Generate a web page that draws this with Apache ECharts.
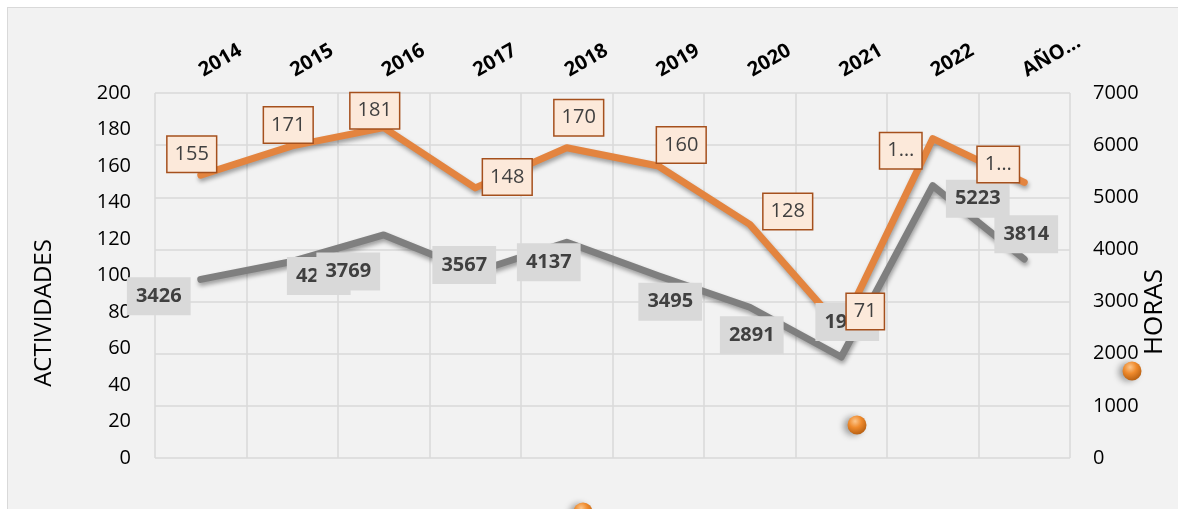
<!DOCTYPE html>
<html>
<head>
<meta charset="utf-8">
<title>Actividades y horas</title>
<script src="https://cdn.jsdelivr.net/npm/echarts@6/dist/echarts.min.js"></script>
<style>
  html, body { margin: 0; padding: 0; background: #fff; overflow: hidden; }
  #frame { position: absolute; left: 7px; top: 7px; width: 1200px; height: 600px;
           background: #f2f2f2; border: 1px solid #d9d9d9; }
  #main { position: absolute; left: 0; top: 0; width: 1178px; height: 509px; }
</style>
</head>
<body>
<div id="frame"></div>
<div id="main"></div>
<script>
  // datos
  const years = ['2014', '2015', '2016', '2017', '2018', '2019', '2020', '2021', '2022', 'AÑO…']
  const actividades = [155, 171, 181, 148, 170, 160, 128, 71, 175, 151]
  const actividadesText = ['155', '171', '181', '148', '170', '160', '128', '71', '1…', '1…']
  const horas = [3426, 3769, 4277, 3567, 4137, 3495, 2891, 1937, 5223, 3814]

  // desplazamiento de las etiquetas respecto al punto (px)
  const actOffsets = [[-9, -21], [-4, -21], [-9, -17], [32, -11], [12, -30], [23, -21], [38, -13], [24, -17], [-32, 12], [-26, -18]]
  const hrsOffsets = [[-42, 17], [56, 10], [-65, 41], [-11, -7], [-18, 20], [12, 26], [2, 28], [6, -35], [45, 13], [2, -25]]

  const FONT = 'Open Sans'
  const ORANGE = '#e3843f'
  const GREY = '#7f7f7f'

  const chart = echarts.init(document.getElementById('main'))

  const greyLabel = {
    show: true,
    position: 'inside',
    fontFamily: FONT,
    fontSize: 20,
    fontWeight: 'bold',
    color: '#404040',
    backgroundColor: '#d9d9d9',
    padding: [8, 9],
    lineHeight: 22
  }

  const orangeLabel = {
    show: true,
    position: 'inside',
    fontFamily: FONT,
    fontSize: 20,
    color: '#404040',
    backgroundColor: '#fce9da',
    borderColor: '#a5501d',
    borderWidth: 1.5,
    padding: [7, 7, 6, 7],
    lineHeight: 22
  }

  const lineShadow = {
    shadowColor: 'rgba(0,0,0,0.35)',
    shadowBlur: 4,
    shadowOffsetX: 1,
    shadowOffsetY: 3
  }

  function sphere(cx, cy) {
    return {
      type: 'circle',
      shape: { cx: cx, cy: cy, r: 9.5 },
      style: {
        fill: new echarts.graphic.RadialGradient(0.4, 0.3, 0.75, [
          { offset: 0, color: '#fcc68c' },
          { offset: 0.45, color: '#ef8a2c' },
          { offset: 1, color: '#b25c10' }
        ]),
        shadowColor: 'rgba(0,0,0,0.35)',
        shadowBlur: 6,
        shadowOffsetX: -4,
        shadowOffsetY: 1
      },
      z: 10
    }
  }

  chart.setOption({
    backgroundColor: 'transparent',
    animation: false,
    grid: { left: 155, right: 108, top: 93, bottom: 51 },
    xAxis: {
      type: 'category',
      position: 'top',
      data: years,
      boundaryGap: true,
      axisLine: { show: false },
      axisTick: { show: false },
      axisLabel: {
        interval: 0,
        rotate: 30,
        margin: 21,
        fontFamily: FONT,
        fontSize: 20,
        fontWeight: 'bold',
        color: '#000'
      },
      splitLine: { show: true, interval: 0, lineStyle: { color: '#d9d9d9', width: 1.5 } }
    },
    yAxis: [
      {
        type: 'value',
        min: 0,
        max: 200,
        interval: 20,
        axisLine: { show: false },
        axisTick: { show: false },
        splitLine: { show: false },
        axisLabel: { margin: 24, fontFamily: FONT, fontSize: 20, color: '#000' }
      },
      {
        type: 'value',
        min: 0,
        max: 7000,
        interval: 1000,
        position: 'right',
        axisLine: { show: false },
        axisTick: { show: false },
        splitLine: { show: true, lineStyle: { color: '#d9d9d9', width: 1.5 } },
        axisLabel: {
          margin: 23, fontFamily: FONT, fontSize: 20, color: '#000',
          formatter: v => String(v)
        }
      }
    ],
    series: [
      {
        name: 'ACTIVIDADES',
        type: 'line',
        yAxisIndex: 0,
        z: 1,
        symbol: 'circle',
        symbolSize: 2,
        itemStyle: { color: 'transparent' },
        lineStyle: Object.assign({ color: ORANGE, width: 7, cap: 'round', join: 'round' }, lineShadow),
        label: { show: false },
        data: actividades
      },
      {
        name: 'HORAS',
        type: 'line',
        yAxisIndex: 1,
        z: 2,
        symbol: 'circle',
        symbolSize: 2,
        itemStyle: { color: 'transparent' },
        lineStyle: Object.assign({ color: GREY, width: 7, cap: 'round', join: 'round' }, lineShadow),
        label: greyLabel,
        data: horas.map((v, i) => ({ value: v, label: { show: i !== 1, offset: hrsOffsets[i] } }))
      },
      {
        // etiqueta de 2015 queda encima de la de 2016
        name: 'HORAS-etiqueta',
        type: 'line',
        yAxisIndex: 1,
        z: 2,
        silent: true,
        symbol: 'circle',
        symbolSize: 2,
        itemStyle: { color: 'transparent' },
        lineStyle: { opacity: 0 },
        label: greyLabel,
        data: horas.map((v, i) => ({ value: v, label: { show: i === 1, offset: hrsOffsets[i] } }))
      },
      {
        // etiquetas naranjas por encima de todo
        name: 'ACTIVIDADES-etiquetas',
        type: 'line',
        yAxisIndex: 0,
        z: 3,
        silent: true,
        symbol: 'circle',
        symbolSize: 2,
        itemStyle: { color: 'transparent' },
        lineStyle: { opacity: 0 },
        label: orangeLabel,
        data: actividades.map((v, i) => ({
          value: v,
          label: { offset: actOffsets[i], formatter: actividadesText[i] }
        }))
      }
    ],
    graphic: [
      {
        type: 'text',
        x: 44,
        y: 313,
        rotation: Math.PI / 2,
        style: { text: 'ACTIVIDADES', fill: '#000', font: '24px "Open Sans"', align: 'center', verticalAlign: 'middle' }
      },
      {
        type: 'text',
        x: 1155,
        y: 312,
        rotation: Math.PI / 2,
        style: { text: 'HORAS', fill: '#000', font: '26px "Open Sans"', align: 'center', verticalAlign: 'middle' }
      },
      sphere(857, 425),
      sphere(1132, 371),
      sphere(583, 512)
    ]
  })
</script>
</body>
</html>
